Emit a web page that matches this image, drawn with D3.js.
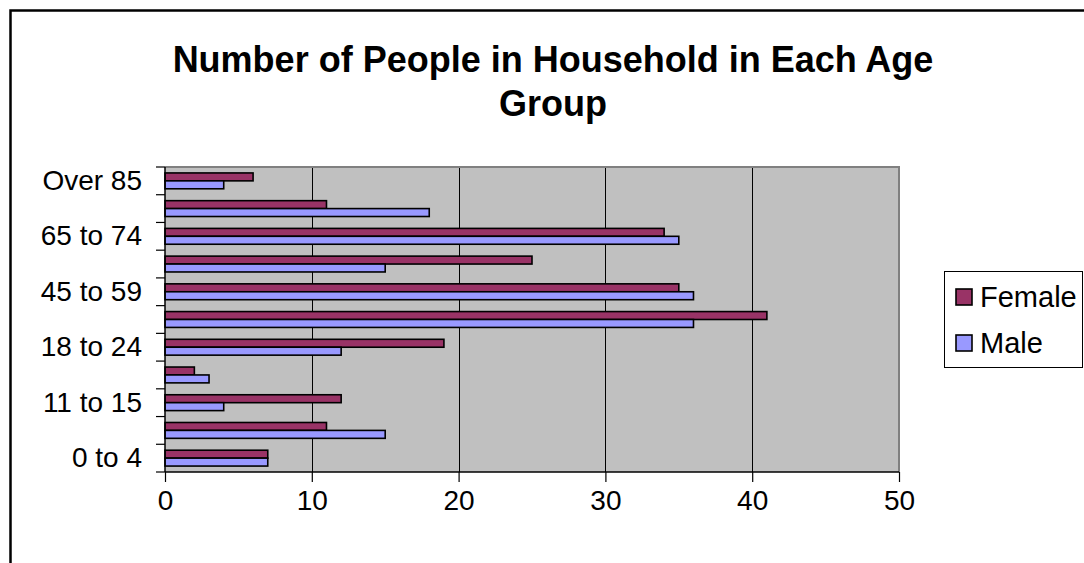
<!DOCTYPE html>
<html>
<head>
<meta charset="utf-8">
<script src="https://cdn.jsdelivr.net/npm/d3@7"></script>
<style>
  html, body { margin: 0; padding: 0; background: #fff; }
  svg { display: block; font-family: "Liberation Sans", Arial, sans-serif; }
</style>
</head>
<body>
<svg id="chart" width="1084" height="563"></svg>
<script>
// ---- data ----
const categories = ["0 to 4", "5 to 10", "11 to 15", "16 to 17", "18 to 24", "25 to 44",
                    "45 to 59", "60 to 64", "65 to 74", "75 to 84", "Over 85"];
const shownLabels = ["0 to 4", "11 to 15", "18 to 24", "45 to 59", "65 to 74", "Over 85"];
const seriesNames = ["Female", "Male"];
const femaleValues = [7, 11, 12, 2, 19, 41, 35, 25, 34, 11, 6];
const maleValues   = [7, 15, 4, 3, 12, 36, 36, 15, 35, 18, 4];
const xTicks = [0, 10, 20, 30, 40, 50];
const titleLines = ["Number of People in Household in Each Age", "Group"];
const colors = { Female: "#993366", Male: "#9999FF" };

// ---- layout ----
const W = 1084, H = 563;
const plot = { left: 165, right: 899, top: 167, bottom: 472 };

const svg = d3.select("#chart");

// outer chart border (extends past right/bottom edges)
svg.append("rect")
  .attr("x", 10.5).attr("y", 10.5)
  .attr("width", W + 40).attr("height", H + 40)
  .attr("fill", "#fff").attr("stroke", "#000").attr("stroke-width", 2.5);

// title
const title = svg.append("text")
  .attr("text-anchor", "middle")
  .attr("font-weight", "bold")
  .attr("font-size", 36)
  .attr("fill", "#000");
title.selectAll("tspan").data(titleLines).join("tspan")
  .attr("x", 553)
  .attr("y", (d, i) => 72 + i * 44)
  .text(d => d);

// scales
const x = d3.scaleLinear().domain([0, 50]).range([plot.left, plot.right]);
const y = d3.scaleBand().domain(categories).range([plot.bottom, plot.top]).paddingInner(0).paddingOuter(0);
const ySub = d3.scaleBand().domain(seriesNames).range([0, y.bandwidth()]).paddingInner(0).paddingOuter(0.75);

// plot background
svg.append("rect")
  .attr("x", plot.left).attr("y", plot.top)
  .attr("width", plot.right - plot.left).attr("height", plot.bottom - plot.top)
  .attr("fill", "#C0C0C0");

// gridlines
svg.append("g").selectAll("line")
  .data(xTicks.filter(v => v > 0 && v < 50)).join("line")
  .attr("x1", d => Math.round(x(d)) + 0.5).attr("x2", d => Math.round(x(d)) + 0.5)
  .attr("y1", plot.top).attr("y2", plot.bottom)
  .attr("stroke", "#000").attr("stroke-width", 1);

// plot border top/right (gray)
svg.append("path")
  .attr("d", `M${plot.left},${plot.top} H${plot.right} V${plot.bottom}`)
  .attr("fill", "none").attr("stroke", "#808080").attr("stroke-width", 2);

// bars
const rows = categories.map((c, i) => ({ cat: c, Female: femaleValues[i], Male: maleValues[i] }));
const groups = svg.append("g").selectAll("g")
  .data(rows).join("g")
  .attr("transform", d => `translate(0,${y(d.cat)})`);
groups.selectAll("rect")
  .data(d => seriesNames.map(s => ({ s, v: d[s] })))
  .join("rect")
  .attr("x", x(0))
  .attr("y", d => ySub(d.s))
  .attr("width", d => x(d.v) - x(0))
  .attr("height", ySub.bandwidth())
  .attr("fill", d => colors[d.s])
  .attr("stroke", "#000").attr("stroke-width", 1.6);

// y axis: line + ticks at band boundaries
const yAxisG = svg.append("g");
yAxisG.append("line")
  .attr("x1", plot.left).attr("x2", plot.left)
  .attr("y1", plot.top).attr("y2", plot.bottom)
  .attr("stroke", "#000").attr("stroke-width", 1.5);
const boundaries = categories.map(c => y(c)).concat([plot.bottom]);
yAxisG.selectAll("line.tk").data(boundaries).join("line").attr("class", "tk")
  .attr("x1", plot.left - 9).attr("x2", plot.left)
  .attr("y1", d => d).attr("y2", d => d)
  .attr("stroke", "#000").attr("stroke-width", 1.2);

// y labels via axis (labels only)
const yAxis = d3.axisLeft(y).tickValues(shownLabels).tickSize(0).tickPadding(23);
const yl = svg.append("g").attr("transform", `translate(${plot.left},0)`).call(yAxis);
yl.select(".domain").remove();
yl.selectAll("text").attr("font-size", 28).attr("font-family", "Liberation Sans, Arial, sans-serif").attr("fill", "#000");

// x axis
const xAxis = d3.axisBottom(x).tickValues(xTicks).tickSize(10).tickPadding(8).tickFormat(d3.format("d"));
const xg = svg.append("g").attr("transform", `translate(0,${plot.bottom})`).call(xAxis);
xg.select(".domain").attr("stroke", "#000").attr("stroke-width", 1.5).attr("d", `M${plot.left},0H${plot.right}`);
xg.selectAll(".tick line").attr("stroke", "#000").attr("stroke-width", 1.2);
xg.selectAll("text").attr("font-size", 28).attr("font-family", "Liberation Sans, Arial, sans-serif").attr("fill", "#000");

// legend
const lg = svg.append("g");
lg.append("rect")
  .attr("x", 944.5).attr("y", 271.5).attr("width", 138).attr("height", 96)
  .attr("fill", "#fff").attr("stroke", "#000").attr("stroke-width", 1);
const li = lg.selectAll("g.item").data(seriesNames).join("g").attr("class", "item")
  .attr("transform", (d, i) => `translate(0,${297 + i * 46})`);
li.append("rect")
  .attr("x", 956).attr("y", -8).attr("width", 16).attr("height", 16)
  .attr("fill", d => colors[d]).attr("stroke", "#000").attr("stroke-width", 1.6);
li.append("text")
  .attr("x", 980).attr("y", 0).attr("dy", "0.35em")
  .attr("font-size", 29).attr("fill", "#000")
  .text(d => d);
</script>
</body>
</html>
